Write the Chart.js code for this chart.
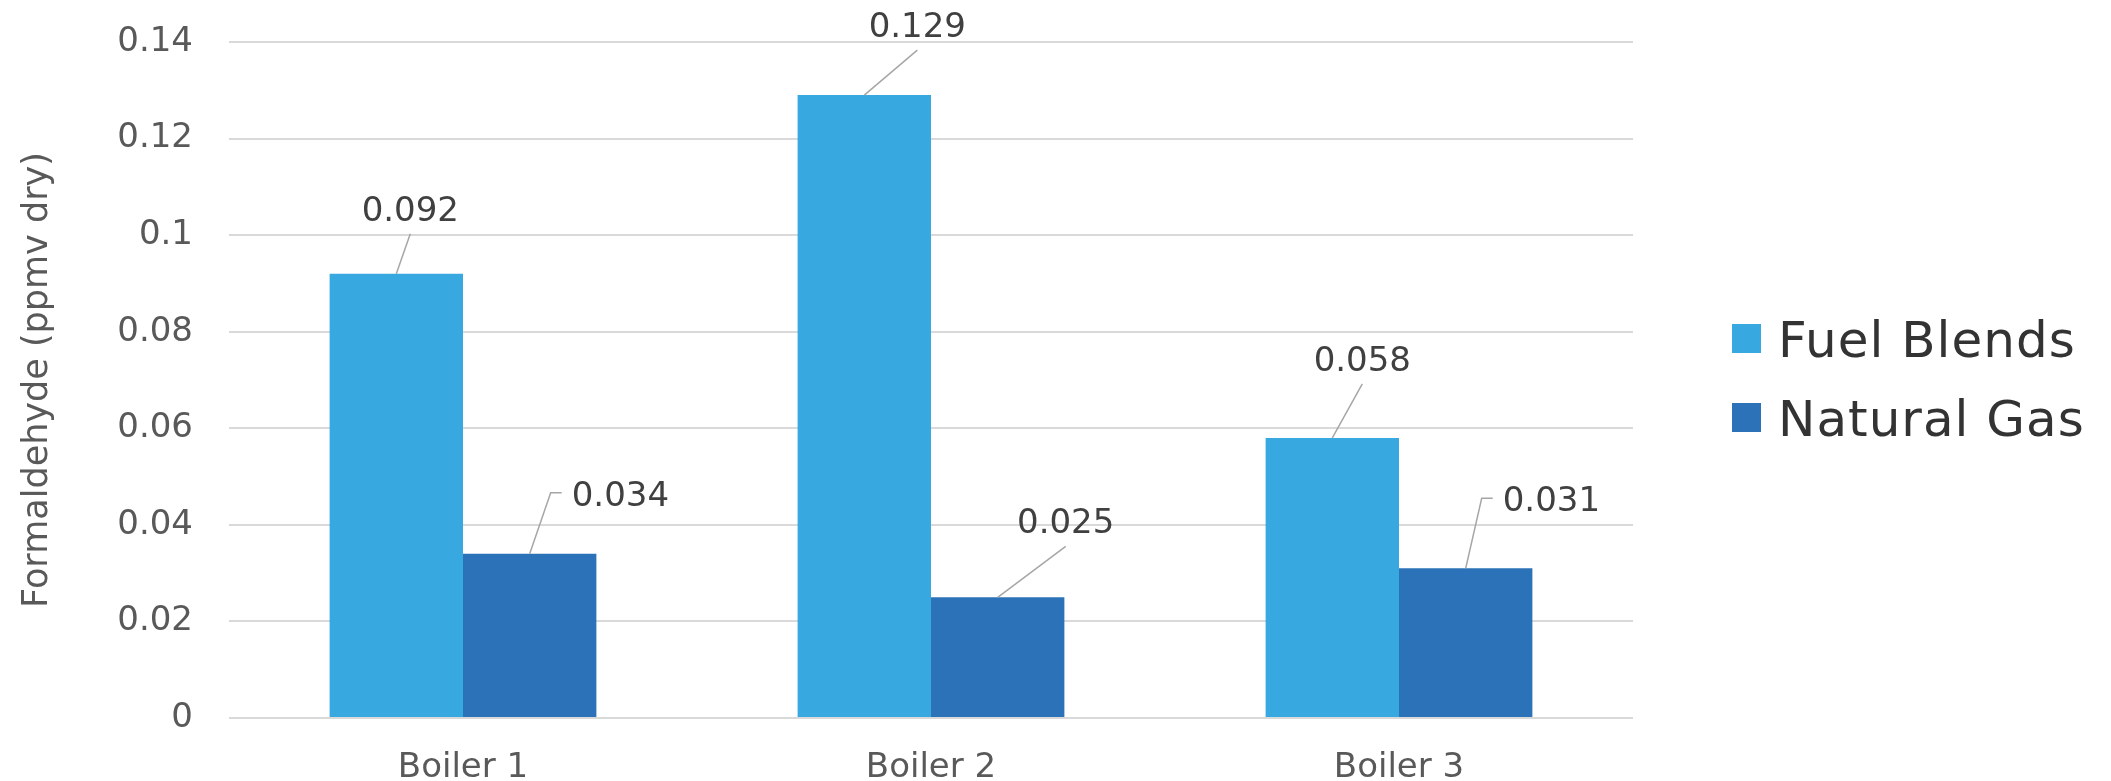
<!DOCTYPE html>
<html>
<head>
<meta charset="utf-8">
<script src="https://cdn.jsdelivr.net/npm/chart.js@4"></script>
<style>
  html, body { margin: 0; padding: 0; background: #fff; overflow: hidden; }
  #wrap { position: relative; width: 2111px; height: 781px; }
</style>
</head>
<body>
<div id="wrap"><canvas id="bar"></canvas></div>
<script>
// data
const boilers = ['Boiler 1', 'Boiler 2', 'Boiler 3'];
const fuelBlends = [0.092, 0.129, 0.058];
const naturalGas = [0.034, 0.025, 0.031];
const seriesNames = ['Fuel Blends', 'Natural Gas'];
const yTitle = 'Formaldehyde (ppmv dry)';

const colFuel = '#38a8e0';
const colGas = '#2b72b9';

// leader lines for the value labels: offset of the elbow from the bar top
// mode 'top' = text centred above the end, 'side' = short tail then text on the right
const leaders = [
  [{dx: 14, dy: -40, mode: 'top'}, {dx: 53, dy: -45, mode: 'top'}, {dx: 30, dy: -54, mode: 'top'}],
  [{dx: 21, dy: -61, mode: 'side'}, {dx: 68, dy: -51, mode: 'top'}, {dx: 16, dy: -70, mode: 'side'}]
];

const valueLabels = {
  id: 'valueLabels',
  afterDatasetsDraw(chart) {
    const ctx = chart.ctx;
    ctx.save();
    ctx.font = '34px "DejaVu Sans"';
    ctx.fillStyle = '#404040';
    ctx.strokeStyle = '#a6a6a6';
    ctx.lineWidth = 1.5;
    chart.data.datasets.forEach((ds, di) => {
      chart.getDatasetMeta(di).data.forEach((bar, i) => {
        const l = leaders[di][i];
        const x0 = bar.x, y0 = bar.y;
        const x1 = x0 + l.dx, y1 = y0 + l.dy;
        ctx.beginPath();
        ctx.moveTo(x0, y0);
        ctx.lineTo(x1, y1);
        const txt = ds.data[i].toFixed(3);
        if (l.mode === 'side') {
          ctx.lineTo(x1 + 11, y1);
          ctx.stroke();
          ctx.textAlign = 'left';
          ctx.textBaseline = 'alphabetic';
          ctx.fillText(txt, x1 + 21, y1 + 13);
        } else {
          ctx.stroke();
          ctx.textAlign = 'center';
          ctx.textBaseline = 'alphabetic';
          ctx.fillText(txt, x1, y1 - 13);
        }
      });
    });
    ctx.restore();
  }
};

const sideLegend = {
  id: 'sideLegend',
  afterDraw(chart) {
    const ctx = chart.ctx;
    const a = chart.chartArea;
    const cy = (a.top + a.bottom) / 2 - 2;
    const x = a.right + 99;
    ctx.save();
    ctx.font = '50px "DejaVu Sans"';
    ctx.letterSpacing = '1px';
    ctx.textAlign = 'left';
    ctx.textBaseline = 'alphabetic';
    chart.data.datasets.forEach((ds, i) => {
      const yc = cy - 39.5 + i * 79;
      ctx.fillStyle = ds.backgroundColor;
      ctx.fillRect(x, yc - 14.5, 29, 29);
      ctx.fillStyle = '#333333';
      ctx.fillText(ds.label, x + 46, yc + 18);
    });
    ctx.restore();
  }
};

new Chart(document.getElementById('bar'), {
  type: 'bar',
  data: {
    labels: boilers,
    datasets: [
      { label: seriesNames[0], data: fuelBlends, backgroundColor: colFuel },
      { label: seriesNames[1], data: naturalGas, backgroundColor: colGas }
    ]
  },
  options: {
    responsive: true,
    maintainAspectRatio: false,
    animation: false,
    categoryPercentage: 0.57,
    barPercentage: 1,
    layout: { padding: { top: 42, right: 478, bottom: 0, left: 0 } },
    plugins: {
      legend: { display: false },
      tooltip: { enabled: false }
    },
    scales: {
      x: {
        grid: { display: false, drawTicks: false },
        border: { display: false },
        ticks: {
          color: '#595959',
          padding: 33,
          font: { family: 'DejaVu Sans', size: 34, lineHeight: 1 }
        },
        afterFit(s) {
          s.height = 63;
          s.paddingLeft = 0;
          s.paddingRight = 0;
        }
      },
      y: {
        min: 0,
        max: 0.14,
        border: { display: false },
        grid: { color: '#d9d9d9', lineWidth: 2, drawTicks: false },
        ticks: {
          stepSize: 0.02,
          color: '#595959',
          padding: 36,
          font: { family: 'DejaVu Sans', size: 34 },
          callback: v => String(Math.round(v * 100) / 100)
        },
        title: {
          display: true,
          text: yTitle,
          color: '#595959',
          font: { family: 'DejaVu Sans', size: 35, lineHeight: 1.2 },
          padding: { top: 17, bottom: 22 }
        },
        afterFit(s) {
          s.width = 229;
          s.paddingTop = 0;
          s.paddingBottom = 0;
        }
      }
    }
  },
  plugins: [valueLabels, sideLegend]
});
</script>
</body>
</html>
